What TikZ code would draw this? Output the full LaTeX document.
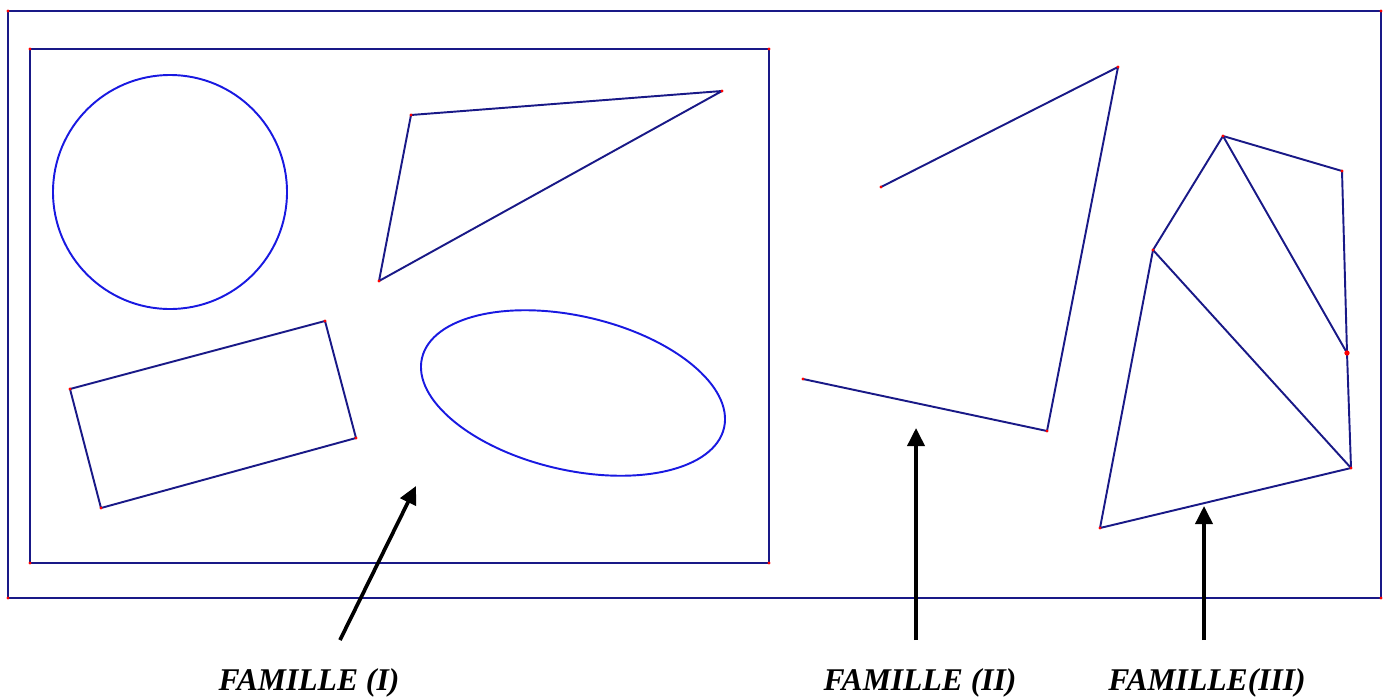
\documentclass[tikz,border=0pt]{standalone}
\usepackage{fontspec}
\setmainfont{Liberation Serif}
\usetikzlibrary{arrows.meta}
\definecolor{trait}{RGB}{25,25,135}
\definecolor{courbe}{RGB}{25,25,225}

\begin{document}
\begin{tikzpicture}[
    x=0.02cm, y=-0.02cm,
    trait/.style = {draw=trait, line width=1.1pt, line join=round},
    courbe/.style = {draw=courbe, line width=1.1pt},
    fleche/.style = {line width=2.1pt, -{Triangle[length=0.36cm,width=0.34cm]}},
    famille/.style = {font=\fontsize{18}{20}\selectfont\bfseries\itshape, anchor=base},
    sommet/.style = {circle, fill=red, inner sep=0pt, minimum size=1.8pt}
]
\useasboundingbox (0,0) rectangle (1385,697);

% cadres
\coordinate (o1) at (8,11);   \coordinate (o2) at (1381,598);
\coordinate (i1) at (30,49);  \coordinate (i2) at (769,563);
\draw[trait] (o1) rectangle (o2);
\draw[trait] (i1) rectangle (i2);

% famille I
\coordinate (cercle) at (170,192);
\draw[courbe] (cercle) circle[radius=117];
\coordinate (t1) at (411,115); \coordinate (t2) at (722,91); \coordinate (t3) at (379,281);
\draw[trait] (t1) -- (t2) -- (t3) -- cycle;
\coordinate (r1) at (70,389); \coordinate (r2) at (325,321);
\coordinate (r3) at (356,438); \coordinate (r4) at (101,508);
\draw[trait] (r1) -- (r2) -- (r3) -- (r4) -- cycle;
\coordinate (ell) at (573,393);
\draw[courbe, rotate around={-13:(ell)}] (ell) ellipse[x radius=155, y radius=77];

% famille II
\coordinate (p1) at (881,187); \coordinate (p2) at (1118,67);
\coordinate (p3) at (1047,431); \coordinate (p4) at (803,379);
\draw[trait] (p1) -- (p2) -- (p3) -- (p4);

% famille III
\coordinate (a) at (1100,528); \coordinate (b) at (1153,250);
\coordinate (c) at (1223,136); \coordinate (d) at (1342,171);
\coordinate (e) at (1347,353); \coordinate (f) at (1351,468);
\draw[trait] (a) -- (b) -- (c) -- (d) -- (e) -- (f) -- cycle;
\draw[trait] (b) -- (f);
\draw[trait] (c) -- (e);

% sommets
\foreach \s in {o1,o2,i1,i2,t1,t2,t3,r1,r2,r3,r4,p1,p2,p3,p4,a,b,c,d,e,f}
    \node[sommet] at (\s) {};
\node[sommet, minimum size=3pt] at (e) {};
\coordinate (o3) at (1381,11); \coordinate (o4) at (8,598);
\coordinate (i3) at (769,49);  \coordinate (i4) at (30,563);
\foreach \s in {o3,o4,i3,i4}
    \node[sommet] at (\s) {};

% etiquettes
\node[famille] (fam1) at (309,690) {FAMILLE (I)};
\node[famille] (fam2) at (920,690) {FAMILLE (II)};
\node[famille] (fam3) at (1207,690) {FAMILLE(III)};

\coordinate (q1) at (340,640); \coordinate (v1) at (416,486);
\coordinate (q2) at (916,640); \coordinate (v2) at (916,428);
\coordinate (q3) at (1204,640); \coordinate (v3) at (1204,506);
\draw[fleche] (q1) -- (v1);
\draw[fleche] (q2) -- (v2);
\draw[fleche] (q3) -- (v3);
\end{tikzpicture}
\end{document}
